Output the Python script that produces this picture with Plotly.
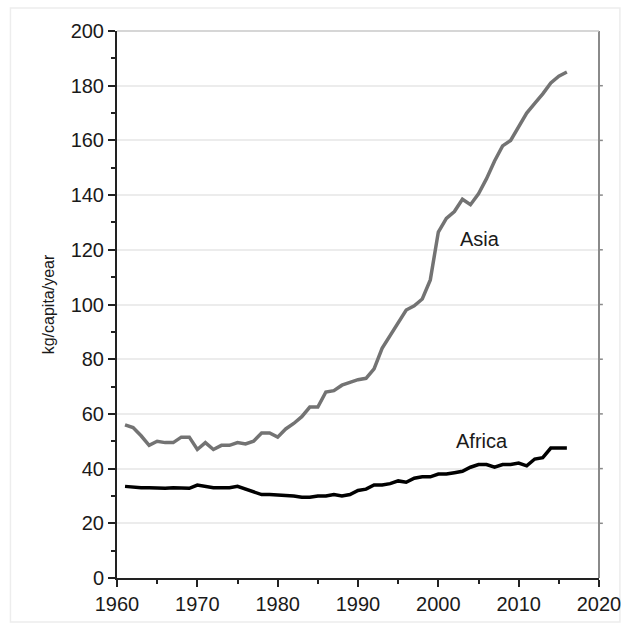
import plotly.graph_objects as go

years = list(range(1961, 2017))

asia = [56, 55, 52, 48.5, 50, 49.5, 49.5, 51.5, 51.5, 47,
        49.5, 47, 48.5, 48.5, 49.5, 49, 50, 53, 53, 51.5,
        54.5, 56.5, 59, 62.5, 62.5, 68, 68.5, 70.5, 71.5, 72.5,
        73, 76.5, 84, 88.5, 93, 98, 99.5, 102, 109, 126.5,
        131.5, 134, 138.5, 136.5, 140.5, 146, 152.5, 158, 160, 165,
        170, 173.5, 177, 181, 183.5, 185]

africa = [33.5, 33.2, 33, 33, 32.8, 32.8, 33, 33, 32.8, 34,
          33.5, 33, 33, 33, 33.5, 32.5, 31.5, 30.5, 30.5, 30.5,
          30.2, 30, 29.5, 29.5, 30, 30, 30.5, 30, 30.5, 32,
          32.5, 34, 34, 34.5, 35.5, 35, 36.5, 37, 37, 38,
          38, 38.5, 39, 40.5, 41.5, 41.5, 40.5, 41.5, 41.5, 42,
          41, 43.5, 44, 47.5, 47.5, 47.5]

labels = ["Asia", "Africa"]
label_years = [2005.2, 2005.4]
label_values = [124, 50]

FONT = "Liberation Sans, Arial, sans-serif"
INK = "#1a1a1a"

fig = go.Figure()
fig.add_trace(go.Scatter(x=years, y=asia, mode="lines", name="Asia",
                         line=dict(color="#737373", width=3.5)))
fig.add_trace(go.Scatter(x=years, y=africa, mode="lines", name="Africa",
                         line=dict(color="#000000", width=3.5)))

for txt, xv, yv in zip(labels, label_years, label_values):
    fig.add_annotation(x=xv, y=yv, text=txt, showarrow=False,
                       font=dict(family=FONT, size=20, color=INK))

fig.update_layout(
    width=633, height=634,
    margin=dict(l=117, r=32, t=31, b=56),
    paper_bgcolor="white", plot_bgcolor="white",
    showlegend=False,
    font=dict(family=FONT, size=20, color=INK),
    xaxis=dict(range=[1960, 2020], tickmode="linear", tick0=1960, dtick=10,
               showgrid=False, zeroline=False,
               showline=True, linecolor="#222222", linewidth=2,
               ticks="outside", ticklen=7, tickwidth=1.5, tickcolor="#222222",
               minor=dict(dtick=5, ticks="outside", ticklen=4, tickwidth=1.5,
                          tickcolor="#222222", showgrid=False),
               tickfont=dict(size=20)),
    yaxis=dict(range=[0, 200], tickmode="linear", tick0=0, dtick=20,
               showgrid=True, gridcolor="#ececec", gridwidth=1.5,
               zeroline=False,
               showline=True, linecolor="#222222", linewidth=2,
               ticks="outside", ticklen=7, tickwidth=1.5, tickcolor="#222222",
               minor=dict(dtick=10, ticks="outside", ticklen=4, tickwidth=1.5,
                          tickcolor="#222222", showgrid=False),
               tickfont=dict(size=20),
               title=dict(text="kg/capita/year", font=dict(size=16), standoff=12)),
)

# right and top frame of the plot area
fig.add_shape(type="line", xref="paper", yref="paper", x0=1, x1=1, y0=0, y1=1,
              line=dict(color="#8a8a8a", width=2))
fig.add_shape(type="line", xref="paper", yref="paper", x0=0, x1=1, y0=1, y1=1,
              line=dict(color="#c8c8c8", width=1.5))
# small ticks on the right frame
for v in range(20, 200, 20):
    fig.add_shape(type="line", xref="paper", yref="y", x0=1, x1=1.008, y0=v, y1=v,
                  line=dict(color="#8a8a8a", width=1.5))

# light outer border around the figure
fig.add_shape(type="rect", xref="paper", yref="paper",
              x0=-107 / 484, x1=1 + 21 / 484, y0=-44 / 547, y1=1 + 23 / 547,
              line=dict(color="#ededed", width=1.5), layer="below")

fig.write_html("out.html")
